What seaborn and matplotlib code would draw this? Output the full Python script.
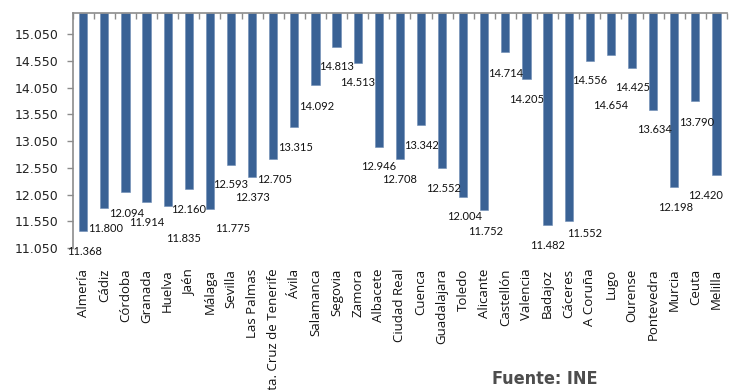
import matplotlib
matplotlib.use("Agg")
import matplotlib.pyplot as plt
from matplotlib import font_manager
import seaborn as sns
import numpy as np
import pandas as pd

# Provincias y valor por provincia
provincias = [
    "Almería", "Cádiz", "Córdoba", "Granada", "Huelva", "Jaén", "Málaga",
    "Sevilla", "Las Palmas", "Sta. Cruz de Tenerife", "Ávila", "Salamanca",
    "Segovia", "Zamora", "Albacete", "Ciudad Real", "Cuenca", "Guadalajara",
    "Toledo", "Alicante", "Castellón", "Valencia", "Badajoz", "Cáceres",
    "A Coruña", "Lugo", "Ourense", "Pontevedra", "Murcia", "Ceuta", "Melilla",
]
valores = [
    11368, 11800, 12094, 11914, 11835, 12160, 11775,
    12593, 12373, 12705, 13315, 14092,
    14813, 14513, 12946, 12708, 13342, 12552,
    12004, 11752, 14714, 14205, 11482, 11552,
    14556, 14654, 14425, 13634, 12198, 13790, 12420,
]
y_ticks = [11050, 11550, 12050, 12550, 13050, 13550, 14050, 14550, 15050]

# Desplazamiento de cada etiqueta respecto al extremo de su barra (píxeles)
label_dx = [1, 1, 1, 0, 16, 0, 23, 0, 0, 1, 1, 1, 0, 0, 0, 0, 0, 1, 1, 1,
            0, 0, 0, 16, 0, 0, 1, 1, 1, 1, -11]
label_dy = [21, 21, 21, 21, 32, 21, 19, 19, 20, 20, 21, 21, 20, 20, 20, 20, 20,
            21, 20, 21, 21, 20, 21, 12, 20, 50, 20, 20, 21, 21, 21]

Y_MIN, Y_MAX = 11050, 15450
BAR_COLOR = "#3A6295"
AXIS_COLOR = "#8C8C8C"


def fmt_es(v):
    return f"{v:,}".replace(",", ".")


df = pd.DataFrame({"provincia": provincias, "valor": valores})
df["desde_tope"] = df["valor"] - Y_MAX

sns.set_theme(style="white")
plt.rcParams["font.family"] = ["DejaVu Sans"]

fig = plt.figure(figsize=(7.38, 3.90), dpi=100)
ax = fig.add_axes([72.7 / 738, 1 - 248 / 390, (727 - 72.7) / 738, (248 - 12.7) / 390])

# Las barras cuelgan del eje superior (el eje horizontal cruza en el máximo)
sns.barplot(
    data=df, x="provincia", y="desde_tope", bottom=Y_MAX,
    color=BAR_COLOR, saturation=1, width=0.39, errorbar=None,
    edgecolor="#6C8BB4", linewidth=0.4, ax=ax,
)

ax.set_ylim(Y_MIN, Y_MAX)
ax.set_xlim(-0.5, len(provincias) - 0.5)
ax.set_yticks(y_ticks)
ax.set_yticklabels([fmt_es(t) for t in y_ticks], fontsize=9, color="#222222")
ax.set_xlabel("")
ax.set_ylabel("")

ax.set_xticks(range(len(provincias)))
ax.set_xticklabels(provincias, rotation=90, fontsize=9.5, family="Open Sans",
                   color="#111111", va="top", ha="center")
ax.tick_params(axis="x", which="major", bottom=False, top=False, pad=9)
ax.set_xticks(np.arange(-0.5, len(provincias)), minor=True)
ax.tick_params(axis="x", which="minor", bottom=False, top=True, direction="in",
               length=4.5, width=1, color=AXIS_COLOR)
ax.tick_params(axis="y", left=True, direction="out", length=4, width=1,
               color=AXIS_COLOR, pad=6)

for side in ["bottom", "right"]:
    ax.spines[side].set_visible(False)
for side in ["left", "top"]:
    ax.spines[side].set_visible(True)
    ax.spines[side].set_color(AXIS_COLOR)
    ax.spines[side].set_linewidth(1.2)

# Etiquetas de valor
for i, v in enumerate(valores):
    ax.annotate(fmt_es(v), xy=(i, v), xytext=(label_dx[i], -label_dy[i]),
                textcoords="offset pixels", ha="center", va="center",
                fontsize=8, family="Lato", color="#111111")

# Nota de fuente en tipografía estrecha
fuente_prop = font_manager.FontProperties(family="DejaVu Sans", weight="bold",
                                          stretch="condensed", size=13)
fig.text(545 / 738, 1 - 379 / 390, "Fuente: INE", ha="center", va="center",
         fontproperties=fuente_prop, color="#4D4D4D")

fig.savefig("out.png", dpi=100)
